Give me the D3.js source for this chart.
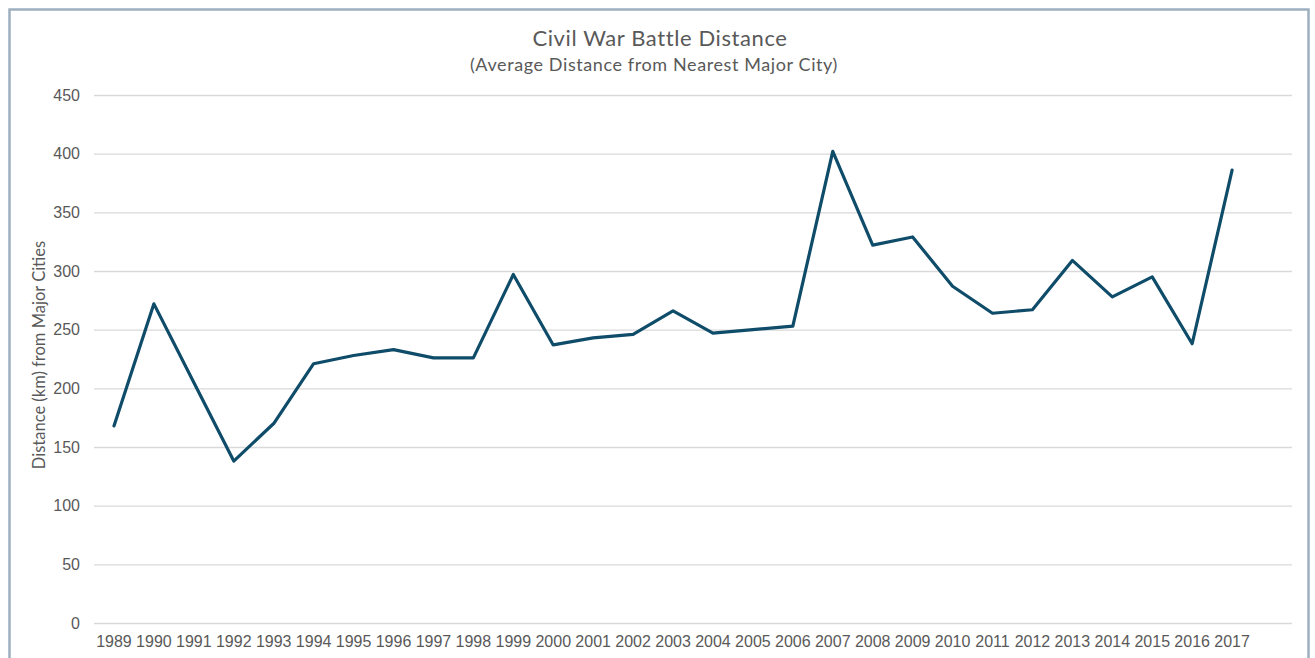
<!DOCTYPE html>
<html>
<head>
<meta charset="utf-8">
<script src="https://cdn.jsdelivr.net/npm/d3@7"></script>
<style>
  body { margin: 0; background: #ffffff; }
  svg { display: block; font-family: Lato, "Open Sans", sans-serif; }
  .tick text { fill: #595959; font-size: 16px; }
</style>
</head>
<body>
<svg id="chart"></svg>
<script>
//data
const years = ["1989", "1990", "1991", "1992", "1993", "1994", "1995", "1996", "1997", "1998",
    "1999", "2000", "2001", "2002", "2003", "2004", "2005", "2006", "2007", "2008",
    "2009", "2010", "2011", "2012", "2013", "2014", "2015", "2016", "2017"];
const distance = [168, 272, 205, 138, 170, 221, 228, 233, 226, 226,
    297, 237, 243, 246, 266, 247, 250, 253, 402, 322,
    329, 287, 264, 267, 309, 278, 295, 238, 386];
const yTicks = [0, 50, 100, 150, 200, 250, 300, 350, 400, 450];

const title = "Civil War Battle Distance";
const subtitle = "(Average Distance from Nearest Major City)";
const yLabel = "Distance (km) from Major Cities";

//constants
const W = 1315, H = 658;
const margin = {top: 95, right: 23, bottom: 35, left: 94};
const width = W - margin.left - margin.right;
const height = H - margin.top - margin.bottom;

//canvas
const svg = d3.select("#chart")
    .attr("width", W)
    .attr("height", H);

//frame
svg.append("rect")
    .attr("x", 9.5)
    .attr("y", 9.5)
    .attr("width", 1299)
    .attr("height", 680)
    .attr("fill", "none")
    .attr("stroke", "#9eafc0")
    .attr("stroke-width", 2.5);

const g = svg.append("g")
    .attr("transform", "translate(" + margin.left + "," + margin.top + ")");

//scales (the category axis keeps one empty slot at the right end)
const xScale = d3.scaleBand()
    .domain(years)
    .range([0, width * years.length / (years.length + 1)]);

const yScale = d3.scaleLinear()
    .domain([0, 450])
    .range([height, 0]);

//grid
g.append("g")
    .attr("class", "grid")
    .call(d3.axisLeft(yScale)
        .tickValues(yTicks)
        .tickSize(-width)
        .tickFormat(""))
    .call(s => s.select(".domain").remove())
    .call(s => s.selectAll("line").attr("stroke", "#d9d9d9").attr("stroke-width", 1.3));

//axes
g.append("g")
    .attr("class", "axis--y")
    .call(d3.axisLeft(yScale)
        .tickValues(yTicks)
        .tickSize(0)
        .tickPadding(14))
    .call(s => s.select(".domain").remove());

g.append("g")
    .attr("class", "axis--x")
    .attr("transform", "translate(0," + height + ")")
    .call(d3.axisBottom(xScale)
        .tickSize(0)
        .tickPadding(13))
    .call(s => s.select(".domain").remove());

//line
const line = d3.line()
    .x((d, i) => xScale(years[i]) + xScale.bandwidth() / 2)
    .y(d => yScale(d));

g.append("path")
    .datum(distance)
    .attr("d", line)
    .attr("fill", "none")
    .attr("stroke", "#0f4c69")
    .attr("stroke-width", 3.2)
    .attr("stroke-linejoin", "round")
    .attr("stroke-linecap", "round");

//titles
svg.append("text")
    .attr("x", 660)
    .attr("y", 46)
    .attr("text-anchor", "middle")
    .style("font-size", "22px")
    .style("letter-spacing", "0.6px")
    .style("fill", "#595959")
    .text(title);

svg.append("text")
    .attr("x", 654)
    .attr("y", 71)
    .attr("text-anchor", "middle")
    .style("font-size", "18px")
    .style("letter-spacing", "0.6px")
    .style("fill", "#595959")
    .text(subtitle);

svg.append("text")
    .attr("transform", "translate(45,355) rotate(-90)")
    .attr("text-anchor", "middle")
    .style("font-size", "16.5px")
    .style("fill", "#595959")
    .text(yLabel);
</script>
</body>
</html>
